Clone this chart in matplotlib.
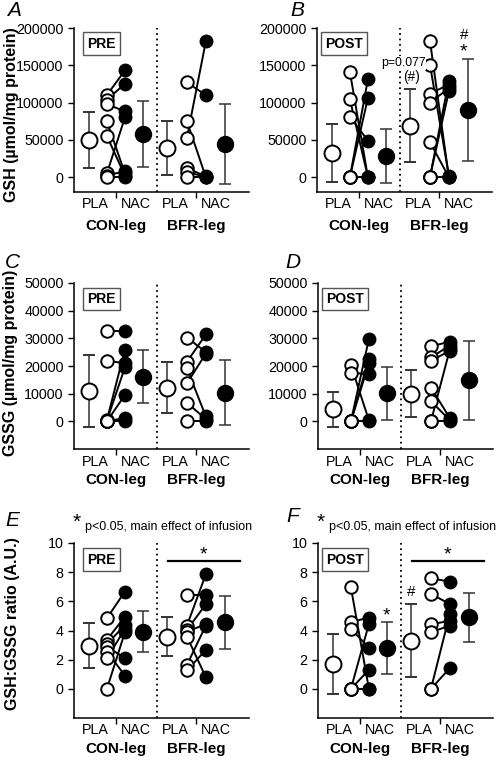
import matplotlib
matplotlib.use('Agg')
import matplotlib.pyplot as plt

plt.rcParams['font.family'] = ['Liberation Sans', 'DejaVu Sans']

# x positions: mean PLA, paired PLA, paired NAC, mean NAC (CON, then BFR)
con_x = [0, 1, 2, 3]
bfr_x = [4.35, 5.45, 6.5, 7.55]
split_x = 3.78

# GSH PRE (panel A)
a_mean = [50000, 58000, 38600, 44500]
a_sd = [37500, 44000, 36000, 54000]
a_con_pla = [110000, 104000, 98000, 75000, 55000, 5000, 2000, 0]
a_con_nac = [143000, 125000, 88000, 5000, 2000, 80000, 8000, 0]
a_bfr_pla = [127000, 75000, 53000, 12000, 7000, 0]
a_bfr_nac = [110000, 0, 182000, 1000, 0, 0]

# GSH POST (panel B)
b_mean = [32300, 28600, 69000, 90000]
b_sd = [38700, 36000, 49000, 68000]
b_con_pla = [141000, 104500, 81000, 0, 0, 0]
b_con_nac = [0, 0, 49000, 131000, 106000, 0]
b_bfr_pla = [183000, 151000, 112000, 100000, 47000, 0, 0, 0]
b_bfr_nac = [0, 2000, 124000, 119000, 0, 129000, 115000, 0]

# GSSG PRE (panel C)
c_mean = [11000, 16200, 12200, 10300]
c_sd = [13000, 9600, 9150, 11700]
c_con_pla = [32500, 21900, 500, 300, 0, 0, 0]
c_con_nac = [32500, 21000, 25900, 19500, 9500, 1200, 0]
c_bfr_pla = [30300, 21500, 19100, 13700, 6700, 0]
c_bfr_nac = [25000, 31400, 1800, 24500, 800, 0]

# GSSG POST (panel D)
d_mean = [4300, 10100, 10000, 14800]
d_sd = [6400, 9600, 8600, 14300]
d_con_pla = [20300, 17600, 0, 0, 0, 0]
d_con_nac = [400, 17000, 29800, 22700, 21000, 0]
d_bfr_pla = [27100, 23100, 21900, 12200, 7300, 0, 0]
d_bfr_nac = [28800, 27400, 25500, 1200, 400, 26000, 0]

# GSH:GSSG PRE (panel E)
e_mean = [2.97, 3.93, 3.58, 4.57]
e_sd = [1.55, 1.43, 1.36, 1.83]
e_con_pla = [4.84, 3.36, 3.06, 2.9, 2.56, 2.1, 0]
e_con_nac = [6.67, 4.95, 4.38, 2.1, 0.91, 4.1, 3.88]
e_bfr_pla = [6.44, 4.34, 4.04, 3.93, 3.58, 1.64, 1.26]
e_bfr_nac = [6.44, 7.85, 5.8, 4.43, 0.8, 4.34, 2.67]

# GSH:GSSG POST (panel F)
f_mean = [1.71, 2.81, 3.29, 4.91]
f_sd = [2.05, 1.77, 2.5, 1.69]
f_con_pla = [6.96, 4.57, 4.11, 0, 0, 0]
f_con_nac = [0, 4.89, 2.83, 4.45, 1.3, 0]
f_bfr_pla = [7.58, 6.5, 4.43, 3.88, 0, 0]
f_bfr_nac = [7.35, 5.82, 4.66, 4.34, 5.14, 1.42]

gsh_ticks = [0, 50000, 100000, 150000, 200000]
gssg_ticks = [0, 10000, 20000, 30000, 40000, 50000]
ratio_ticks = [0, 2, 4, 6, 8, 10]

W, H = 502, 766
fig = plt.figure(figsize=(W / 100, H / 100), dpi=100)


def px_axes(left, top, width, height):
  return fig.add_axes([left / W, 1 - (top + height) / H, width / W, height / H])


def draw_panel(ax, means, sds, con_pla, con_nac, bfr_pla, bfr_nac, ylim, yticks, box, group_off=31):
  for xs, pla, nac, k in [(con_x, con_pla, con_nac, 0), (bfr_x, bfr_pla, bfr_nac, 2)]:
    for p, n in zip(pla, nac):
      ax.plot([xs[1], xs[2]], [p, n], color='black', lw=1.4, zorder=2)
    ax.plot([xs[1]] * len(pla), pla, 'o', ms=9, mfc='white', mec='black', mew=1.4, zorder=3)
    ax.plot([xs[2]] * len(nac), nac, 'o', ms=9, mfc='black', mec='black', zorder=3)
    # mean +/- sd
    ax.errorbar(xs[0], means[k], yerr=sds[k], fmt='o', ms=11.5, mfc='white', mec='black', mew=1.4,
                ecolor='#333333', elinewidth=1.1, capsize=4, capthick=1.1, zorder=3)
    ax.errorbar(xs[3], means[k + 1], yerr=sds[k + 1], fmt='o', ms=11.5, mfc='black', mec='black',
                ecolor='#333333', elinewidth=1.1, capsize=4, capthick=1.1, zorder=3)

  ax.axvline(split_x, color='black', lw=1.3, ls=(0, (1, 2)), zorder=1)
  ax.set_xlim(-0.83, 8.9)
  ax.set_ylim(*ylim)
  ax.set_yticks(yticks)
  ax.set_yticklabels([str(t) for t in yticks], fontsize=10.3)
  ax.set_xticks([1.5, 5.95])
  ax.set_xticklabels(['', ''])
  ax.tick_params(direction='out', length=4, width=1)
  for s in ['top', 'right']:
    ax.spines[s].set_visible(False)
  for s in ['left', 'bottom']:
    ax.spines[s].set_linewidth(1.1)

  for x, lab in [(0.35, 'PLA'), (2.6, 'NAC'), (4.8, 'PLA'), (7.05, 'NAC')]:
    ax.annotate(lab, xy=(x, 0), xycoords=('data', 'axes fraction'), xytext=(0, -9),
                textcoords='offset points', ha='center', va='center', fontsize=10.3)
  for x, lab in [(1.5, 'CON-leg'), (5.95, 'BFR-leg')]:
    ax.annotate(lab, xy=(x, 0), xycoords=('data', 'axes fraction'), xytext=(0, -group_off * 0.72),
                textcoords='offset points', ha='center', va='center', fontsize=11, fontweight='bold')

  ax.text(0.155, 0.905, box, transform=ax.transAxes, ha='center', va='center', fontsize=10,
          fontweight='bold', bbox=dict(boxstyle='square,pad=0.3', fc='white', ec='#555555', lw=1))


ax_a = px_axes(74, 28, 175, 164)
draw_panel(ax_a, a_mean, a_sd, a_con_pla, a_con_nac, a_bfr_pla, a_bfr_nac, (-20000, 200000), gsh_ticks, 'PRE', 34)
ax_b = px_axes(317, 28, 175, 164)
draw_panel(ax_b, b_mean, b_sd, b_con_pla, b_con_nac, b_bfr_pla, b_bfr_nac, (-20000, 200000), gsh_ticks, 'POST', 34)
ax_c = px_axes(74, 283, 175, 166)
draw_panel(ax_c, c_mean, c_sd, c_con_pla, c_con_nac, c_bfr_pla, c_bfr_nac, (-10000, 50000), gssg_ticks, 'PRE')
ax_d = px_axes(318, 283, 175, 166)
draw_panel(ax_d, d_mean, d_sd, d_con_pla, d_con_nac, d_bfr_pla, d_bfr_nac, (-10000, 50000), gssg_ticks, 'POST')
ax_e = px_axes(74, 543, 175, 175)
draw_panel(ax_e, e_mean, e_sd, e_con_pla, e_con_nac, e_bfr_pla, e_bfr_nac, (-2, 10), ratio_ticks, 'PRE')
ax_f = px_axes(318, 543, 175, 175)
draw_panel(ax_f, f_mean, f_sd, f_con_pla, f_con_nac, f_bfr_pla, f_bfr_nac, (-2, 10), ratio_ticks, 'POST')

# annotations in panel B
ax_b.text(7.33, 190000, '#', ha='center', va='center', fontsize=11)
ax_b.text(7.33, 168000, '*', ha='center', va='center', fontsize=14)
ax_b.text(3.95, 153000, 'p=0.077', ha='center', va='center', fontsize=8.8,
          bbox=dict(fc='white', ec='none', pad=0.5))
ax_b.text(4.4, 134000, '(#)', ha='center', va='center', fontsize=9.8,
          bbox=dict(fc='white', ec='none', pad=0.5))

# significance bars in E and F
for ax in [ax_e, ax_f]:
  ax.plot([4.39, 8.39], [8.77, 8.77], color='black', lw=1.6, clip_on=False)
  ax.text(6.39, 9.15, '*', ha='center', va='center', fontsize=14)
ax_f.text(3, 5.0, '*', ha='center', va='center', fontsize=14)
ax_f.text(4.35, 6.65, '#', ha='center', va='center', fontsize=11)

# main effect note
for x0 in [77, 321]:
  fig.text(x0 / W, 1 - 522 / H, '*', ha='center', va='center', fontsize=15)
  fig.text((x0 + 8) / W, 1 - 527 / H, 'p<0.05, main effect of infusion', ha='left', va='center', fontsize=9.0)

# y labels
fig.text(12 / W, 1 - 115 / H, 'GSH (\u00b5mol/mg protein)', rotation=90, ha='center', va='center',
         fontsize=11.5, fontweight='bold')
fig.text(11 / W, 1 - 363 / H, 'GSSG (\u00b5mol/mg protein)', rotation=90, ha='center', va='center',
         fontsize=11.5, fontweight='bold')
fig.text(13 / W, 1 - 624 / H, 'GSH:GSSG ratio (A.U.)', rotation=90, ha='center', va='center',
         fontsize=11.5, fontweight='bold')

# panel letters
for lab, x, y in [('A', 14, 11), ('B', 297, 11), ('C', 12, 262), ('D', 293, 262), ('E', 12, 520), ('F', 293, 517)]:
  fig.text(x / W, 1 - y / H, lab, ha='center', va='center', fontsize=15, style='italic')

fig.savefig('out.png', dpi=100)
plt.close()
